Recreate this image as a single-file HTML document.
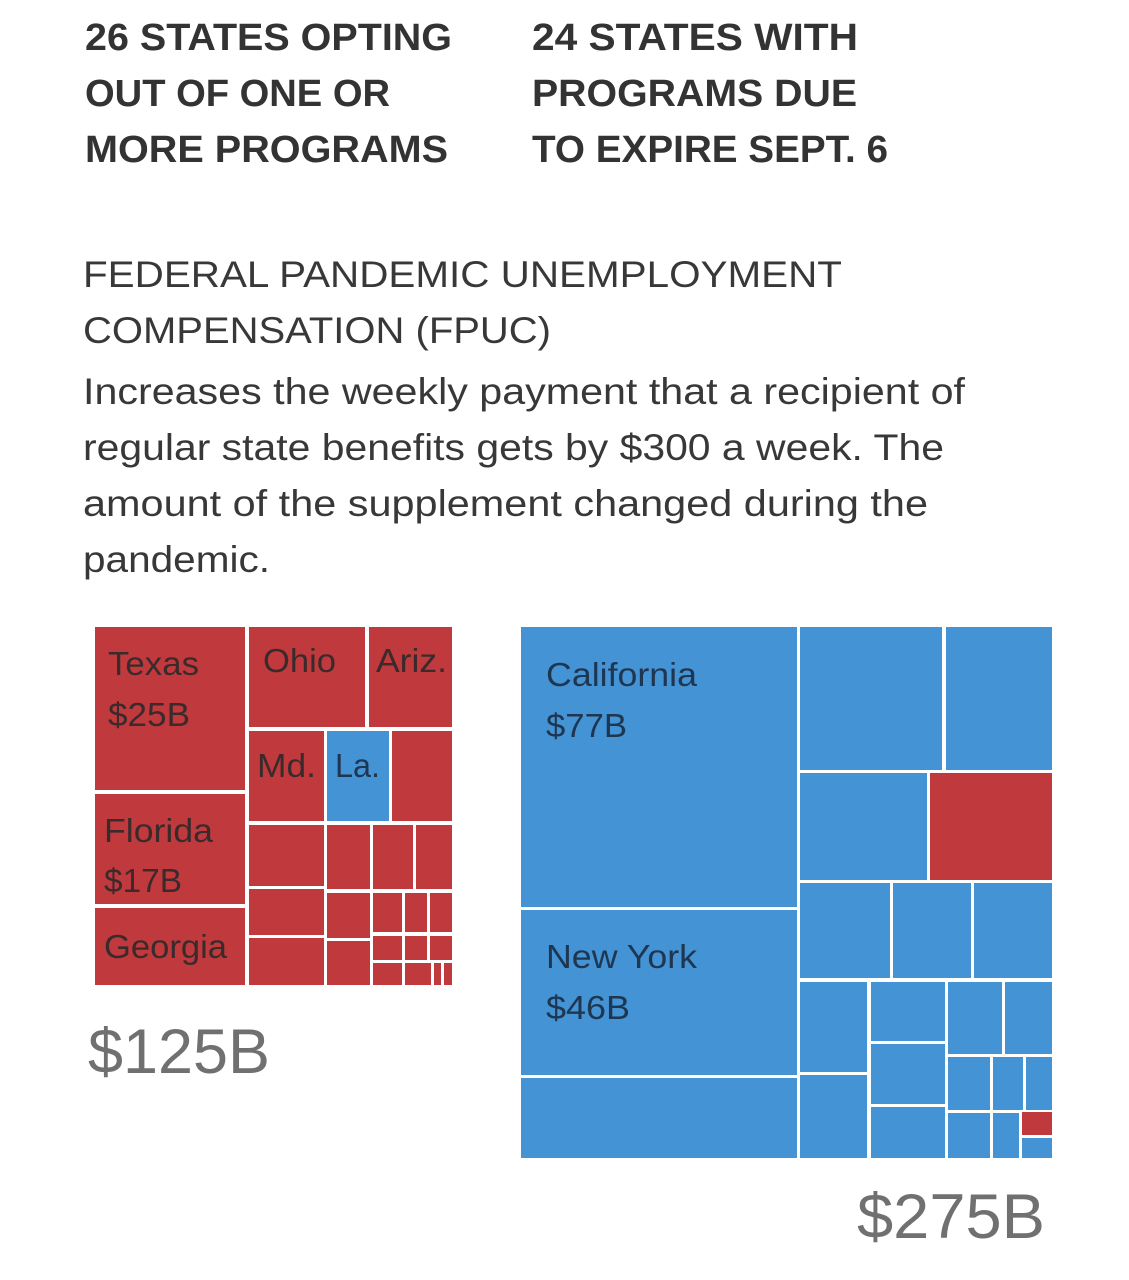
<!DOCTYPE html>
<html><head><meta charset="utf-8"><style>
html,body{margin:0;padding:0;background:#fff;}
svg{display:block;}
text{font-family:"Liberation Sans",sans-serif;}
</style></head><body>
<svg id="chart" width="1129" height="1280" viewBox="0 0 1129 1280" xmlns="http://www.w3.org/2000/svg">
<g fill="#333" font-weight="bold" font-size="38">
<text x="85" y="50" textLength="367" lengthAdjust="spacingAndGlyphs">26 STATES OPTING</text>
<text x="85" y="106" textLength="305" lengthAdjust="spacingAndGlyphs">OUT OF ONE OR</text>
<text x="85" y="162" textLength="363" lengthAdjust="spacingAndGlyphs">MORE PROGRAMS</text>
<text x="532" y="50" textLength="326" lengthAdjust="spacingAndGlyphs">24 STATES WITH</text>
<text x="532" y="106" textLength="325" lengthAdjust="spacingAndGlyphs">PROGRAMS DUE</text>
<text x="532" y="162" textLength="356" lengthAdjust="spacingAndGlyphs">TO EXPIRE SEPT. 6</text>
</g>
<g fill="#383838" font-size="37">
<text x="83" y="287" textLength="759" lengthAdjust="spacingAndGlyphs">FEDERAL PANDEMIC UNEMPLOYMENT</text>
<text x="83" y="343" textLength="468" lengthAdjust="spacingAndGlyphs">COMPENSATION (FPUC)</text>
<text x="83" y="404" textLength="882" lengthAdjust="spacingAndGlyphs">Increases the weekly payment that a recipient of</text>
<text x="83" y="460" textLength="861" lengthAdjust="spacingAndGlyphs">regular state benefits gets by $300 a week. The</text>
<text x="83" y="516" textLength="845" lengthAdjust="spacingAndGlyphs">amount of the supplement changed during the</text>
<text x="83" y="572" textLength="187" lengthAdjust="spacingAndGlyphs">pandemic.</text>
</g>
<g id="left"></g>
<g id="right"></g>
<g id="labels"></g>
<text x="88" y="1073" font-size="63" fill="#707070" textLength="182" lengthAdjust="spacingAndGlyphs">$125B</text>
<text x="857" y="1238" font-size="63" fill="#707070" textLength="188" lengthAdjust="spacingAndGlyphs">$275B</text>
</svg>
<script>
// treemap tiles: [x0,x1,y0,y1,party] (party r = opted out, b = due to expire)
const leftTiles = [
[95,245,627,790,'r'],[95,245,794,904,'r'],[95,245,908,985,'r'],
[249,365,627,727,'r'],[369,452,627,727,'r'],
[249,324,731,821,'r'],[327,389,731,821,'b'],[392,452,731,821,'r'],
[249,324,825,886,'r'],[327,370,825,889,'r'],[373,413,825,889,'r'],[416,452,825,889,'r'],
[249,324,889,935,'r'],[249,324,938,985,'r'],[327,370,893,938,'r'],[327,370,941,985,'r'],
[373,402,893,932,'r'],[405,427,893,932,'r'],[430,452,893,932,'r'],
[373,402,936,960,'r'],[405,427,936,960,'r'],[430,452,936,960,'r'],
[373,402,963,985,'r'],[405,431,963,985,'r'],[434,441,963,985,'r'],[444,452,963,985,'r']
];
const rightTiles = [
[521,797,627,907,'b'],[521,797,910,1075,'b'],[521,797,1078,1158,'b'],
[800,942,627,770,'b'],[946,1052,627,770,'b'],
[800,927,773,880,'b'],[930,1052,773,880,'r'],
[800,890,883,978,'b'],[893,971,883,978,'b'],[974,1052,883,978,'b'],
[800,867,982,1072,'b'],[800,867,1075,1158,'b'],
[871,945,982,1041,'b'],[871,945,1044,1104,'b'],[871,945,1107,1158,'b'],
[948,1002,982,1054,'b'],[1005,1052,982,1054,'b'],
[948,990,1057,1110,'b'],[993,1023,1057,1110,'b'],[1026,1052,1057,1110,'b'],
[948,990,1113,1158,'b'],[993,1019,1113,1158,'b'],[1022,1052,1112,1135,'r'],[1022,1052,1138,1158,'b']
];
const labelText = ['Texas','$25B','Ohio','Ariz.','Md.','La.','Florida','$17B','Georgia','California','$77B','New York','$46B'];
const labelPos = [[108,675,91],[108,726,82],[263,672,73],[376,672,71],[257,777,59],[335,777,45],[104,842,109],[104,892,78],[104,958,123],[546,686,151],[546,737,81],[546,968,151],[546,1019,84]];
const labelOnBlue = [false,false,false,false,false,true,false,false,false,true,true,true,true];
const NS='http://www.w3.org/2000/svg';
function draw(tiles, gid){
  const g=document.getElementById(gid);
  tiles.forEach((t,i)=>{
    const r=document.createElementNS(NS,'rect');
    r.setAttribute('x',t[0]);r.setAttribute('y',t[2]);
    r.setAttribute('width',t[1]-t[0]);r.setAttribute('height',t[3]-t[2]);
    r.setAttribute('fill',t[4]==='r'?'#c0393c':'#4393d5');
    
    
    g.appendChild(r);
  });
}
draw(leftTiles,'left');draw(rightTiles,'right');
const lg=document.getElementById('labels');
labelText.forEach((s,i)=>{
  const p=labelPos[i];
  const t=document.createElementNS(NS,'text');
  t.setAttribute('x',p[0]);t.setAttribute('y',p[1]);
  t.setAttribute('font-size','33');
  t.setAttribute('fill',labelOnBlue[i]?'#1f3650':'#3b2a2b');
  t.setAttribute('textLength',p[2]);t.setAttribute('lengthAdjust','spacingAndGlyphs');
  t.textContent=s;
  
  
  lg.appendChild(t);
});
</script>
</body></html>
